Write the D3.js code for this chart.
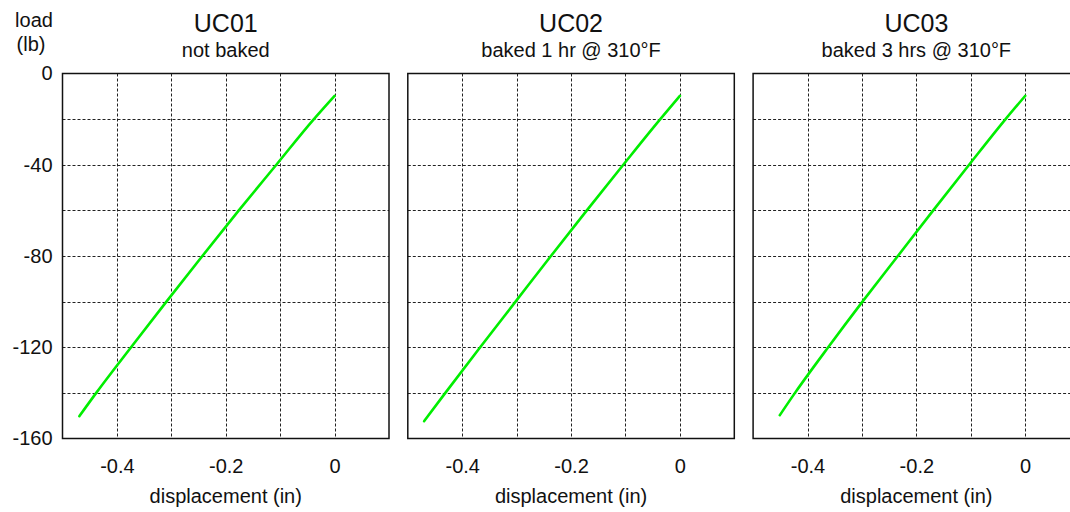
<!DOCTYPE html>
<html>
<head>
<meta charset="utf-8">
<script src="https://cdn.jsdelivr.net/npm/d3@7"></script>
<style>
  body { margin: 0; background: #fff; }
  svg { display: block; font-family: "Liberation Sans", Arial, sans-serif; }
</style>
</head>
<body>
<svg id="chart" width="1070" height="512"></svg>
<script>
// panel titles
const titles = ["UC01", "UC02", "UC03"];
const subtitles = ["not baked", "baked 1 hr @ 310°F", "baked 3 hrs @ 310°F"];

// displacement (in) / load (lb)
const uc01Disp = [-0.469, -0.438, -0.374, -0.309, -0.243, -0.176, -0.107, -0.038, 0];
const uc01Load = [-150.2, -140, -120, -100, -80, -60, -40, -20, -9.8];
const uc02Disp = [-0.470, -0.431, -0.367, -0.302, -0.237, -0.171, -0.104, -0.036, 0];
const uc02Load = [-152.4, -140, -120, -100, -80, -60, -40, -20, -9.8];
const uc03Disp = [-0.451, -0.423, -0.362, -0.299, -0.234, -0.169, -0.103, -0.036, 0];
const uc03Load = [-149.8, -140, -120, -100, -80, -60, -40, -20, -9.8];

// ticks
const xGridTicks = [-0.4, -0.3, -0.2, -0.1, 0];
const xLabelTicks = [-0.4, -0.2, 0];
const yGridTicks = [-20, -40, -60, -80, -100, -120, -140];
const yLabelTicks = [0, -40, -80, -120, -160];

const series = [
  { disp: uc01Disp, load: uc01Load },
  { disp: uc02Disp, load: uc02Load },
  { disp: uc03Disp, load: uc03Load }
];

const svg = d3.select("#chart");
const plotTop = 73.5, plotBottom = 438.5;
const panelW = 326.5, panelStep = 345.3, firstLeft = 62.5;
const fmt = d => String(d); // plain hyphen minus like the original

const y = d3.scaleLinear().domain([-160, 0]).range([plotBottom, plotTop]);

series.forEach((s, i) => {
  const left = firstLeft + i * panelStep;
  const x = d3.scaleLinear().domain([-0.5, 0.1]).range([left, left + panelW]);
  const g = svg.append("g");

  // dashed grid
  g.append("g")
    .selectAll("line")
    .data(xGridTicks)
    .join("line")
    .attr("x1", d => Math.round(x(d)) + 0.5)
    .attr("x2", d => Math.round(x(d)) + 0.5)
    .attr("y1", plotTop)
    .attr("y2", plotBottom)
    .attr("stroke", "#222")
    .attr("stroke-width", 1)
    .attr("stroke-dasharray", "3,2");

  g.append("g")
    .selectAll("line")
    .data(yGridTicks)
    .join("line")
    .attr("x1", left)
    .attr("x2", left + panelW)
    .attr("y1", d => Math.round(y(d)) + 0.5)
    .attr("y2", d => Math.round(y(d)) + 0.5)
    .attr("stroke", "#222")
    .attr("stroke-width", 1)
    .attr("stroke-dasharray", "3,2");

  // frame
  g.append("rect")
    .attr("x", left)
    .attr("y", plotTop)
    .attr("width", panelW)
    .attr("height", plotBottom - plotTop)
    .attr("fill", "none")
    .attr("stroke", "#111")
    .attr("stroke-width", 1.5);

  // trace
  const pts = s.disp.map((d, k) => [d, s.load[k]]);
  g.append("path")
    .datum(pts)
    .attr("fill", "none")
    .attr("stroke", "#00ee00")
    .attr("stroke-width", 2.6)
    .attr("stroke-linecap", "round")
    .attr("stroke-linejoin", "round")
    .attr("d", d3.line().curve(d3.curveMonotoneY).x(d => x(d[0])).y(d => y(d[1])));

  // x axis labels
  const xAxis = d3.axisBottom(x)
    .tickValues(xLabelTicks)
    .tickSize(0)
    .tickPadding(0)
    .tickFormat(fmt);
  const xa = g.append("g")
    .attr("transform", `translate(0,${plotBottom + 20})`)
    .call(xAxis);
  xa.select(".domain").remove();
  xa.selectAll("text")
    .attr("font-size", 20)
    .attr("font-family", "Liberation Sans, Arial, sans-serif")
    .attr("fill", "#111");

  g.append("text")
    .attr("x", left + panelW / 2)
    .attr("y", 503)
    .attr("text-anchor", "middle")
    .attr("font-size", 20)
    .attr("fill", "#111")
    .text("displacement (in)");

  // titles
  g.append("text")
    .attr("x", left + panelW / 2)
    .attr("y", 32)
    .attr("text-anchor", "middle")
    .attr("font-size", 25)
    .attr("fill", "#111")
    .text(titles[i]);
  g.append("text")
    .attr("x", left + panelW / 2)
    .attr("y", 57)
    .attr("text-anchor", "middle")
    .attr("font-size", 20)
    .attr("fill", "#111")
    .text(subtitles[i]);
});

// y axis labels (first panel only)
const yAxis = d3.axisLeft(y)
  .tickValues(yLabelTicks)
  .tickSize(0)
  .tickPadding(0)
  .tickFormat(fmt);
const ya = svg.append("g")
  .attr("transform", `translate(${firstLeft - 10},0)`)
  .call(yAxis);
ya.select(".domain").remove();
ya.selectAll("text")
  .attr("font-size", 20)
  .attr("font-family", "Liberation Sans, Arial, sans-serif")
  .attr("fill", "#111");

svg.append("text")
  .attr("x", 34)
  .attr("y", 27)
  .attr("text-anchor", "middle")
  .attr("font-size", 20)
  .attr("fill", "#111")
  .text("load");
svg.append("text")
  .attr("x", 31)
  .attr("y", 51)
  .attr("text-anchor", "middle")
  .attr("font-size", 20)
  .attr("fill", "#111")
  .text("(lb)");
</script>
</body>
</html>
